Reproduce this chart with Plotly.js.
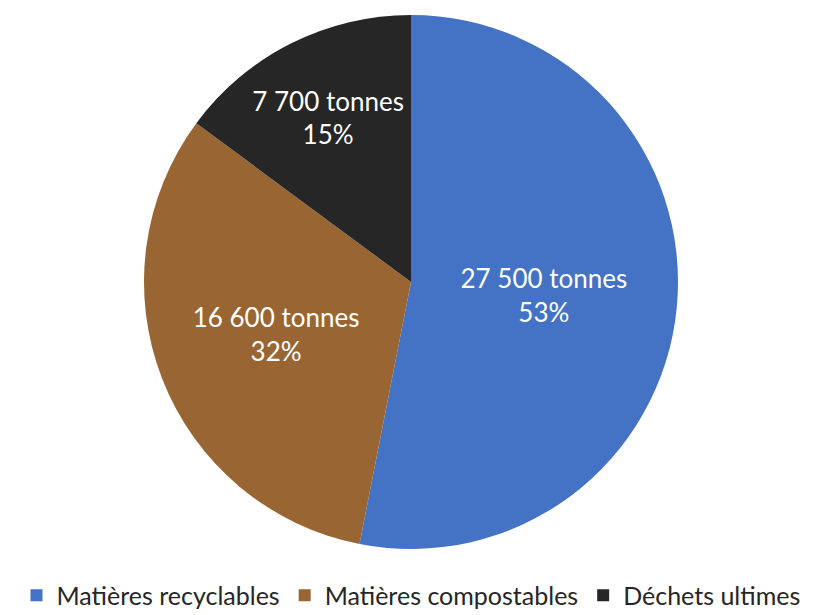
<!DOCTYPE html>
<html>
<head>
<meta charset="utf-8">
<script src="https://cdn.plot.ly/plotly-3.0.1.min.js"></script>
<style>html,body{margin:0;padding:0;background:#fff;}#chart{width:824px;height:615px;}</style>
</head>
<body>
<div id="chart"></div>
<script>
const categories = ["Matières recyclables", "Matières compostables", "Déchets ultimes"];
const tonnes = [27500, 16600, 7700];
const colors = ["#4472C4", "#996633", "#262626"];

const trace = {
  type: "pie",
  labels: categories,
  values: tonnes,
  sort: false,
  direction: "clockwise",
  rotation: 0,
  marker: {colors: colors, line: {color: "#ffffff", width: 0}},
  texttemplate: "%{value:,} tonnes<br>%{percent:.0%}",
  textposition: "inside",
  insidetextorientation: "horizontal",
  textfont: {family: "Lato, 'Open Sans', sans-serif", size: 26, color: "#ffffff"},
  hoverinfo: "none"
};

const layout = {
  width: 824,
  height: 615,
  separators: ", ",
  margin: {l: 0, r: 2, t: 15, b: 66, autoexpand: false},
  paper_bgcolor: "#ffffff",
  showlegend: true,
  legend: {
    orientation: "h",
    x: 0.5,
    xanchor: "center",
    y: -0.044,
    yanchor: "top",
    font: {family: "Lato, 'Open Sans', sans-serif", size: 25, color: "#262626"},
    traceorder: "normal"
  },
  font: {family: "Lato, 'Open Sans', sans-serif"}
};

Plotly.newPlot("chart", [trace], layout, {displayModeBar: false, staticPlot: true});
</script>
</body>
</html>
